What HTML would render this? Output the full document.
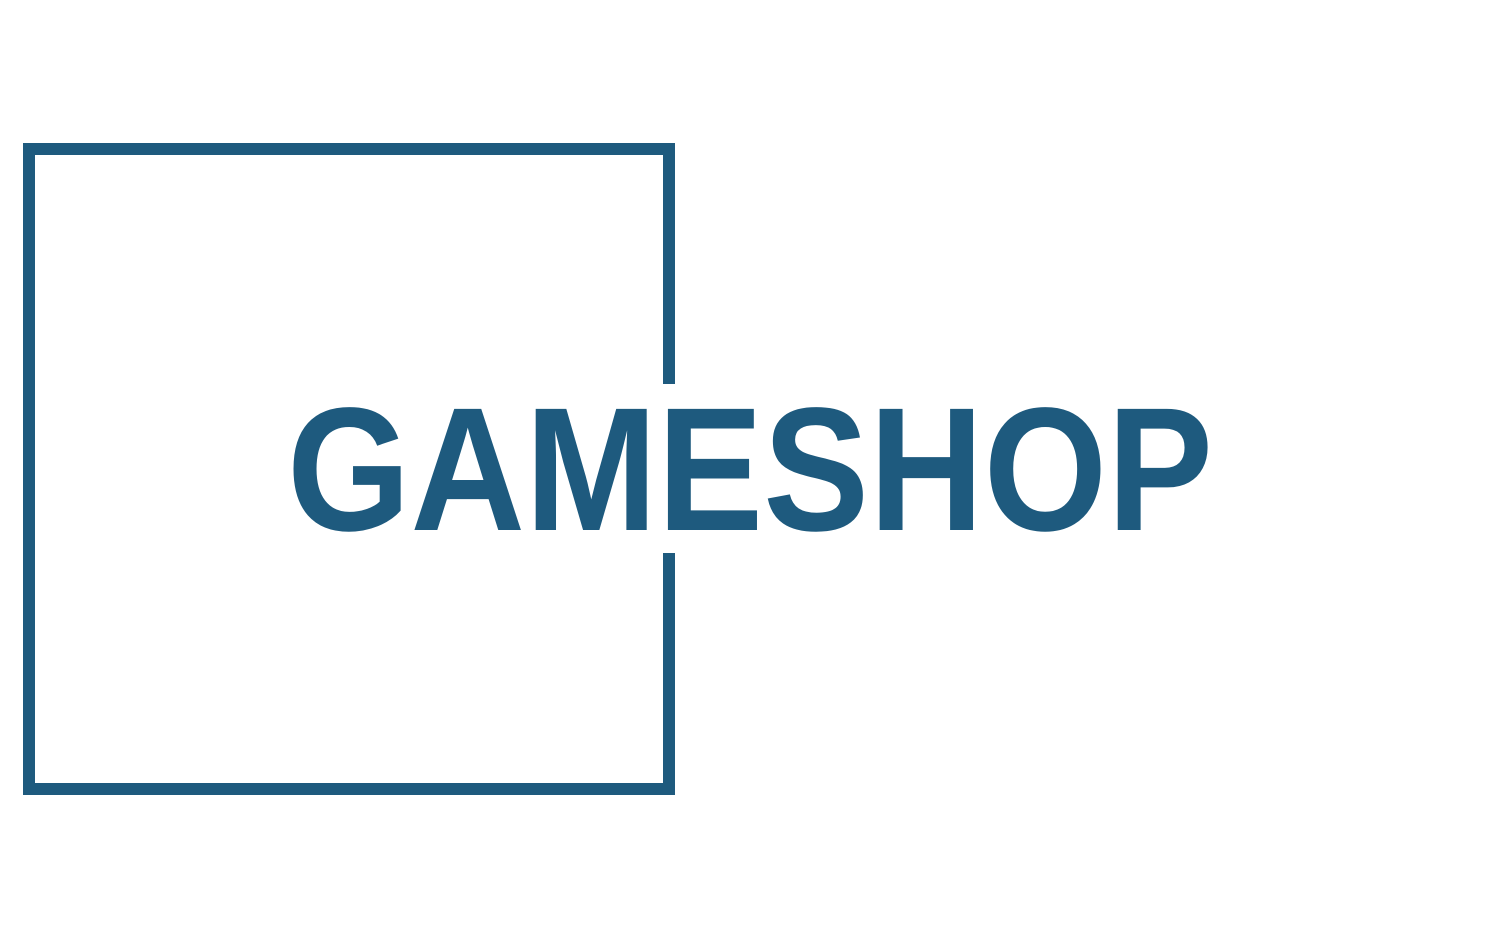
<!DOCTYPE html>
<html>
<head>
<meta charset="utf-8">
<style>
html,body{margin:0;padding:0;background:#fff;}
svg{display:block;}
</style>
</head>
<body>
<svg width="1500" height="939" viewBox="0 0 1500 939">
  <rect x="0" y="0" width="1500" height="939" fill="#ffffff"/>
  <path d="M669 384 L669 149 L29 149 L29 789 L669 789 L669 553" fill="none" stroke="#1e5a7e" stroke-width="12"/>
  <text x="287" y="530" font-family="Liberation Sans, sans-serif" font-weight="bold" font-size="176" fill="#1e5a7e" textLength="926" lengthAdjust="spacingAndGlyphs">GAMESHOP</text>
</svg>
</body>
</html>
